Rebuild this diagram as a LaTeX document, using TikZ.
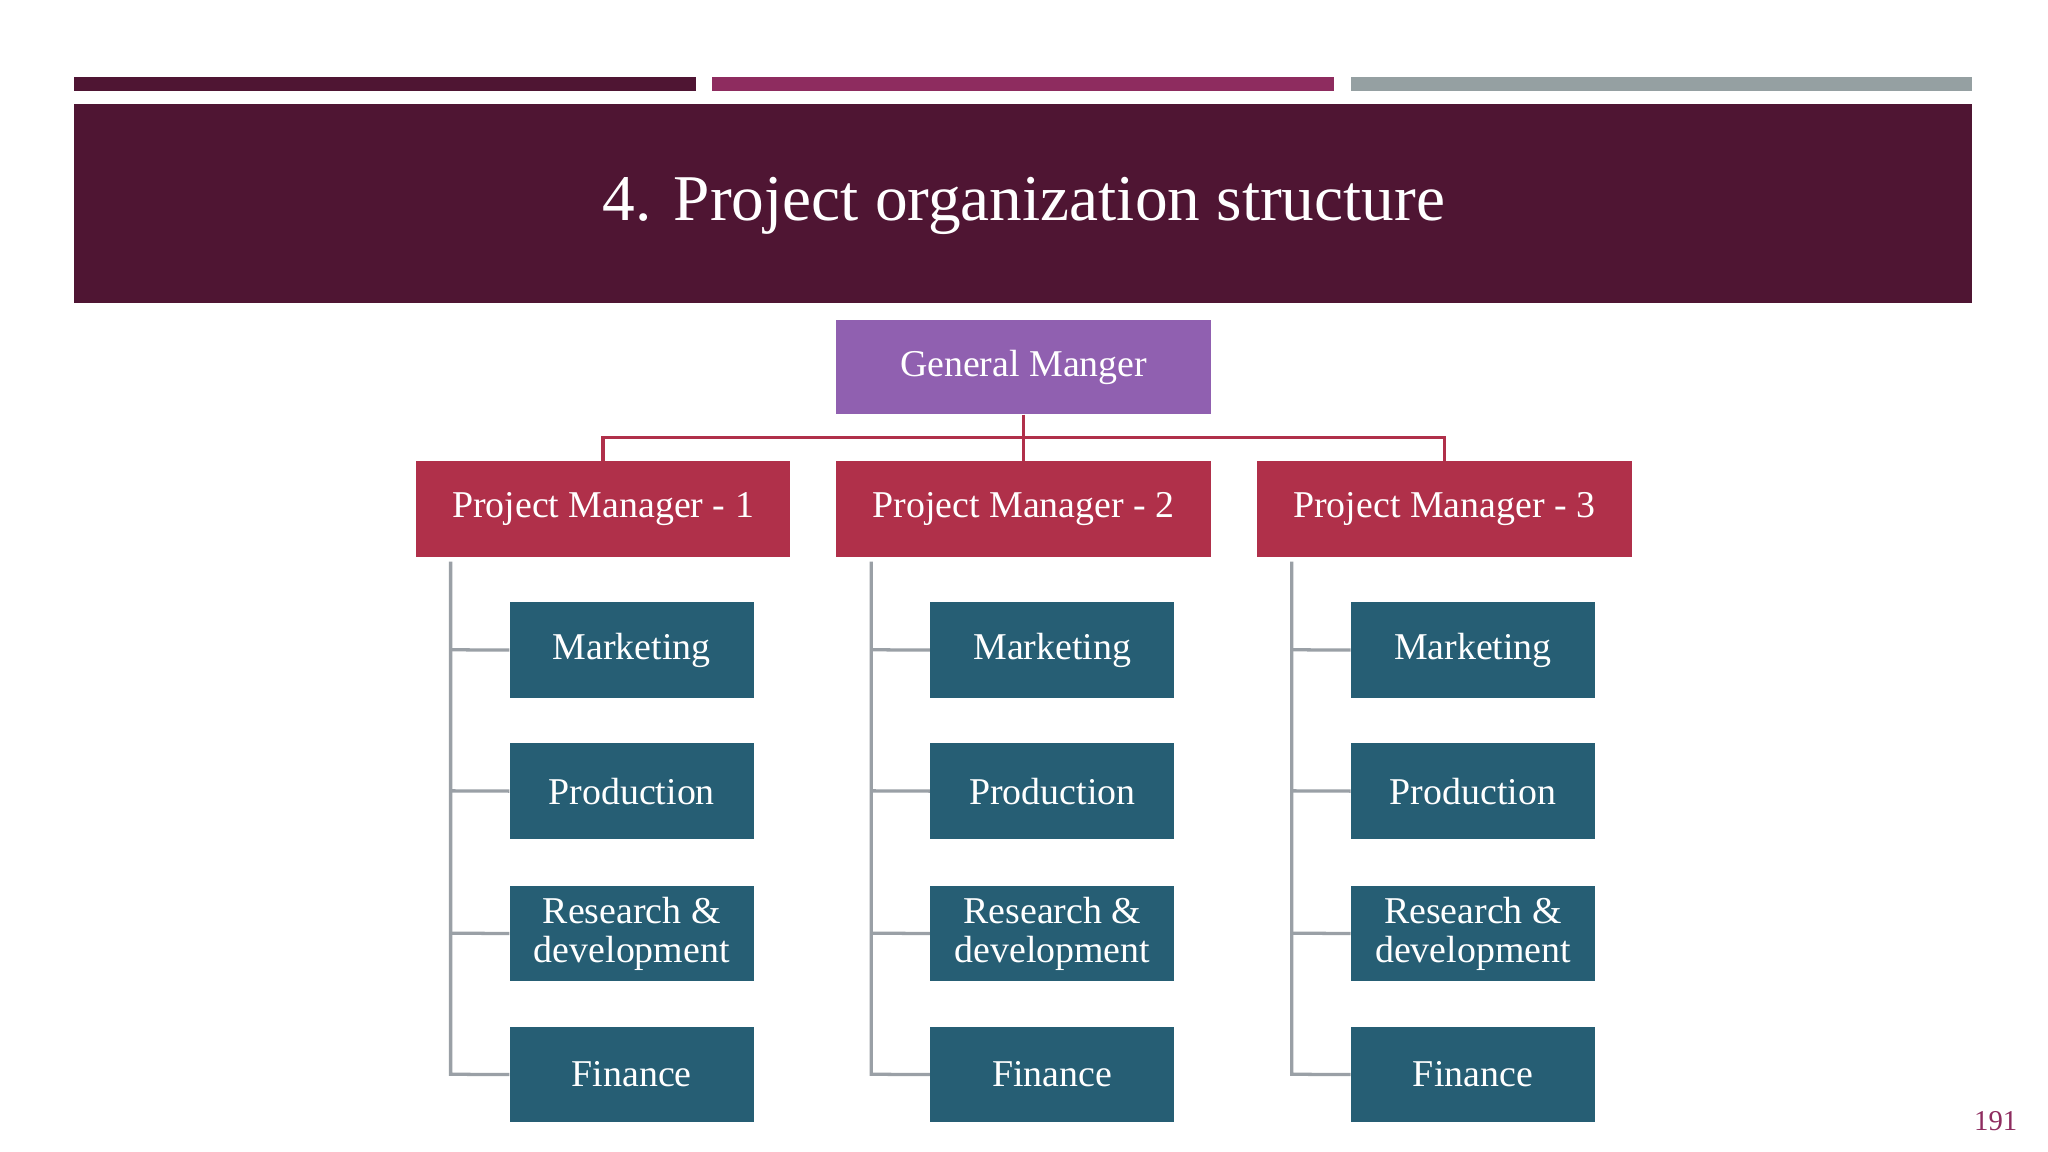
\documentclass[tikz,border=0pt]{standalone}
\usepackage{fontspec}
\setmainfont{Liberation Serif}
\definecolor{barA}{HTML}{4F1533}
\definecolor{barB}{HTML}{8E2C5F}
\definecolor{barC}{HTML}{95A0A2}
\definecolor{gmc}{HTML}{9060B0}
\definecolor{pmc}{HTML}{B0304A}
\definecolor{subc}{HTML}{265E74}
\definecolor{linec}{HTML}{9AA0A6}
\begin{document}
\begin{tikzpicture}[x=1pt,y=-1pt,
  box/.style={minimum width=187pt,minimum height=73pt,inner sep=0pt,text=white,font=\fontsize{29}{29}\selectfont,align=center,anchor=north west},
  pmbox/.style={box,fill=pmc,minimum width=287pt},
  subbox/.style={box,fill=subc,font=\fontsize{29}{30}\selectfont},
  gl/.style={draw=linec,line width=2.5pt},
  rl/.style={draw=pmc,line width=2.5pt}]
\useasboundingbox (0,0) rectangle (1568,882);
\fill[white] (0,0) rectangle (1568,882);
\fill[barA] (57,59) rectangle (533,70);
\fill[barB] (545,59) rectangle (1021,70);
\fill[barC] (1034,59) rectangle (1510,70);
\fill[barA] (57,80) rectangle (1510,232);
\node[text=white,font=\fontsize{50}{50}\selectfont] (title) at (784,158) {4. Project organization structure};
\node[box,fill=gmc,minimum width=287pt,minimum height=72pt] (gm) at (640,245) {General Manger};
\foreach \i/\x in {1/318,2/640,3/962}{
  \node[pmbox] (pm\i) at (\x,353) {Project Manager - \i};
  \node[subbox] (m\i) at (\x+72,461) {Marketing};
  \node[subbox] (p\i) at (\x+72,569) {Production};
  \node[subbox] (r\i) at (\x+72,678) {Research \&\\development};
  \node[subbox] (f\i) at (\x+72,786) {Finance};
  \coordinate (t\i) at (\x+27,430);
  \draw[gl] (t\i) -- (\x+27,822.5) -- (f\i.west);
  \draw[gl] (\x+27,497.5) -- (m\i.west);
  \draw[gl] (\x+27,605.5) -- (p\i.west);
  \draw[gl] (\x+27,714.5) -- (r\i.west);
}
\coordinate (j) at (783.5,335);
\draw[rl] (gm.south) -- (pm2.north);
\draw[rl] (pm1.north) -- (pm1.north |- j) -- (pm3.north |- j) -- (pm3.north);
\node[text=barB,font=\fontsize{22}{22}\selectfont] (pg) at (1528,858) {191};
\end{tikzpicture}
\end{document}
